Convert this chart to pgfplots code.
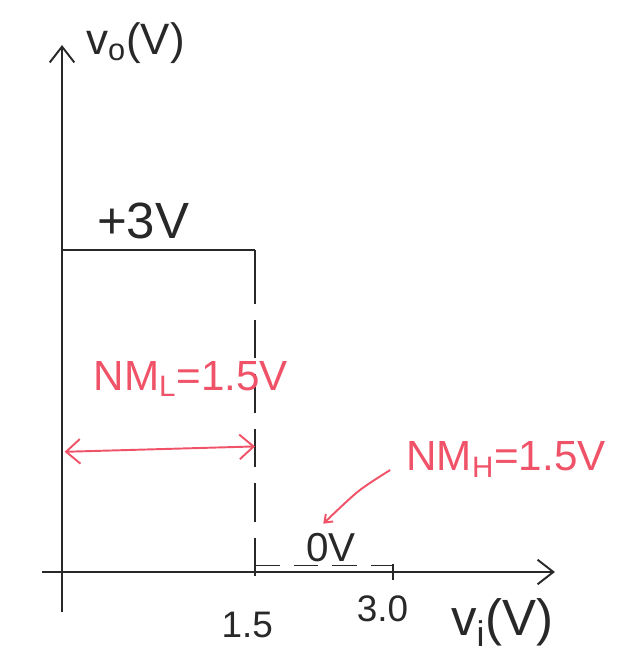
\documentclass[border=0pt]{standalone}
\usepackage{fontspec}
\setmainfont{Liberation Sans}
\usepackage{pgfplots}
\pgfplotsset{compat=1.18}
\usetikzlibrary{arrows.meta}
\definecolor{pen}{RGB}{40,40,40}
\definecolor{redpen}{RGB}{240,82,104}

\begin{document}
\begin{tikzpicture}
\begin{axis}[
	scale only axis,
	width=12.72cm, height=13.2cm,
	xmin=-0.482, xmax=4.46,
	ymin=-0.82, ymax=5.33,
	axis lines=none,
	clip=false,
	]
% keep the whole sheet in the bounding box
\path (rel axis cs:0,0) rectangle (rel axis cs:1,1);

% axes
\addplot[pen, line width=1.1pt, -{Straight Barb[length=9pt,width=14pt]}] coordinates {(-0.155,0) (3.83,0)};
\addplot[pen, line width=1.1pt, -{Straight Barb[length=9pt,width=14pt]}] coordinates {(0,-0.37) (0,4.91)};

% output high level and transition
\addplot[pen, line width=1.1pt] coordinates {(0,3) (1.5,3)};
\addplot[pen, line width=1.1pt] coordinates {(1.5,3) (1.5,2.5)};
\addplot[pen, line width=1.1pt, dash pattern=on 22pt off 9pt] coordinates {(1.5,2.35) (1.5,-0.12)};

% output low level
\addplot[pen, line width=1pt, dash pattern=on 14pt off 8pt] coordinates {(1.5,0.06) (2.57,0.06)};
\addplot[pen, line width=1pt] coordinates {(2.57,-0.07) (2.57,0.07)};

% noise margins
\addplot[redpen, line width=1.1pt, {Straight Barb[length=8pt,width=14pt]}-{Straight Barb[length=8pt,width=14pt]}] coordinates {(0.02,1.12) (1.5,1.17)};
\addplot[redpen, line width=1.1pt, smooth, -{Straight Barb[length=4pt,width=6pt]}] coordinates {(2.55,0.95) (2.3,0.75) (2.03,0.45)};

\node[pen, font=\fontsize{25}{27}\selectfont] at (axis cs:0.57,4.93) {v\textsubscript{o}(V)};
\node[pen, font=\fontsize{29}{31}\selectfont] at (axis cs:0.63,3.27) {+3V};
\node[pen, font=\fontsize{23}{25}\selectfont] at (axis cs:2.09,0.23) {0V};
\node[pen, font=\fontsize{21}{23}\selectfont] at (axis cs:1.44,-0.49) {1.5};
\node[pen, font=\fontsize{21}{23}\selectfont] at (axis cs:2.49,-0.34) {3.0};
\node[pen, font=\fontsize{29}{31}\selectfont] at (axis cs:3.42,-0.47) {v\textsubscript{i}(V)};
\node[redpen, font=\fontsize{24}{26}\selectfont] at (axis cs:1.0,1.8) {NM\textsubscript{L}=1.5V};
\node[redpen, font=\fontsize{24}{26}\selectfont] at (axis cs:3.45,1.05) {NM\textsubscript{H}=1.5V};
\end{axis}
\end{tikzpicture}
\end{document}
